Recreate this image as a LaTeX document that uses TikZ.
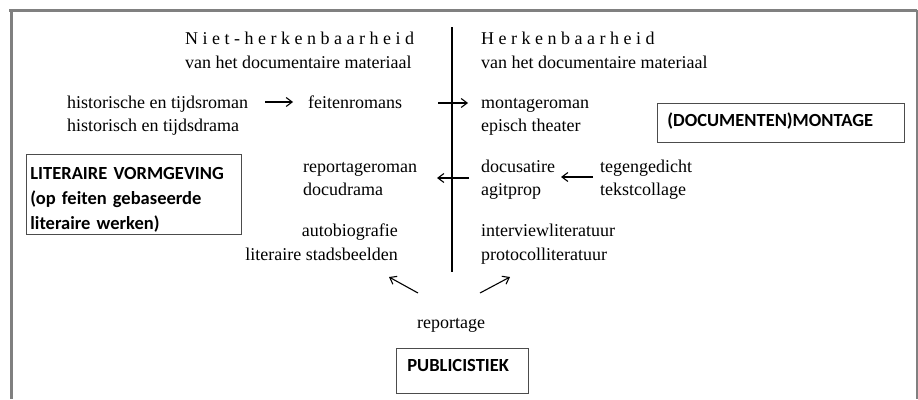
\documentclass[tikz,border=0pt]{standalone}
\usepackage{fontspec}
\setmainfont{Liberation Serif}
\newfontfamily\boxfont{Carlito}
\usetikzlibrary{arrows.meta}

\tikzset{
  txt/.style={anchor=base west, inner sep=0pt, font=\fontsize{18}{23}\selectfont},
  txtr/.style={txt, anchor=base east},
  genre/.style={draw=black!70, line width=0.8pt, align=left, anchor=north west,
    inner ysep=0pt, font=\boxfont\bfseries\fontsize{18.5}{25}\selectfont},
  flow/.style={-{Straight Barb[length=6pt,width=9pt]}, line width=1.1pt},
}

\begin{document}
\begin{tikzpicture}[x=1pt, y=-1pt]
    \useasboundingbox (0,0) rectangle (918,399);

    % ==========================================
    % Frame
    % ==========================================
    \draw[gray, line width=3pt] (9,10.5) -- (917,10.5);
    \draw[gray, line width=3pt] (11.5,9) -- (11.5,399);
    \draw[gray, line width=1.5pt] (917,10) -- (917,399);

    % ==========================================
    % Headings and divider
    % ==========================================
    \node[txt] (nh1) at (185,44) {N i e t - h e r k e n b a a r h e i d};
    \node[txt] (nh2) at (185,68) {van het documentaire materiaal};
    \node[txt] (hb1) at (481,44) {H e r k e n b a a r h e i d};
    \node[txt] (hb2) at (481,68) {van het documentaire materiaal};

    \coordinate (divtop) at (452,27);
    \coordinate (divbot) at (452,272);
    \draw[line width=1.3pt] (divtop) -- (divbot);

    % ==========================================
    % Genres
    % ==========================================
    \node[txt] (hist1) at (67,108) {historische en tijdsroman};
    \node[txt] (hist2) at (67,131) {historisch en tijdsdrama};
    \node[txt] (feit) at (308,108) {feitenromans};
    \node[txt] (mont1) at (481,108) {montageroman};
    \node[txt] (mont2) at (481,131) {episch theater};

    \node[txt] (repr1) at (303,172) {reportageroman};
    \node[txt] (repr2) at (303,195) {docudrama};
    \node[txt] (sat1) at (481,172) {docusatire};
    \node[txt] (sat2) at (481,195) {agitprop};
    \node[txt] (teg1) at (600,172) {tegengedicht};
    \node[txt] (teg2) at (600,195) {tekstcollage};

    \node[txtr] (auto1) at (398,236) {autobiografie};
    \node[txtr] (auto2) at (398,260) {literaire stadsbeelden};
    \node[txt] (intv1) at (481,236) {interviewliteratuur};
    \node[txt] (intv2) at (481,260) {protocolliteratuur};

    \node[txt, anchor=base] (rep) at (451,328) {reportage};

    % ==========================================
    % Boxes
    % ==========================================
    \node[genre, text width=207pt, inner xsep=4pt,
      text height=25pt, text depth=55pt] (lit) at (26,154)
      {LITERAIRE VORMGEVING\\(op feiten gebaseerde\\literaire werken)};
    \node[genre, text width=227pt, inner xsep=10pt,
      text height=23pt, text depth=16pt] (mtg) at (657,103)
      {(DOCUMENTEN)MONTAGE};
    \node[genre, text width=110pt, inner xsep=11pt,
      text height=23pt, text depth=22pt] (pub) at (396,348)
      {PUBLICISTIEK};

    % ==========================================
    % Arrows
    % ==========================================
    \coordinate (a1s) at (265,102); \coordinate (a1e) at (293,102);
    \coordinate (a2s) at (438,103); \coordinate (a2e) at (468,103);
    \coordinate (a3s) at (469,178); \coordinate (a3e) at (437,178);
    \coordinate (a4s) at (593,177); \coordinate (a4e) at (561,177);
    \coordinate (a5s) at (418,293); \coordinate (a5e) at (389,277);
    \coordinate (a6s) at (480,293); \coordinate (a6e) at (510,277);
    \draw[flow] (a1s) -- (a1e);
    \draw[flow] (a2s) -- (a2e);
    \draw[flow] (a3s) -- (a3e);
    \draw[flow] (a4s) -- (a4e);
    \draw[flow] (a5s) -- (a5e);
    \draw[flow] (a6s) -- (a6e);

\end{tikzpicture}
\end{document}
